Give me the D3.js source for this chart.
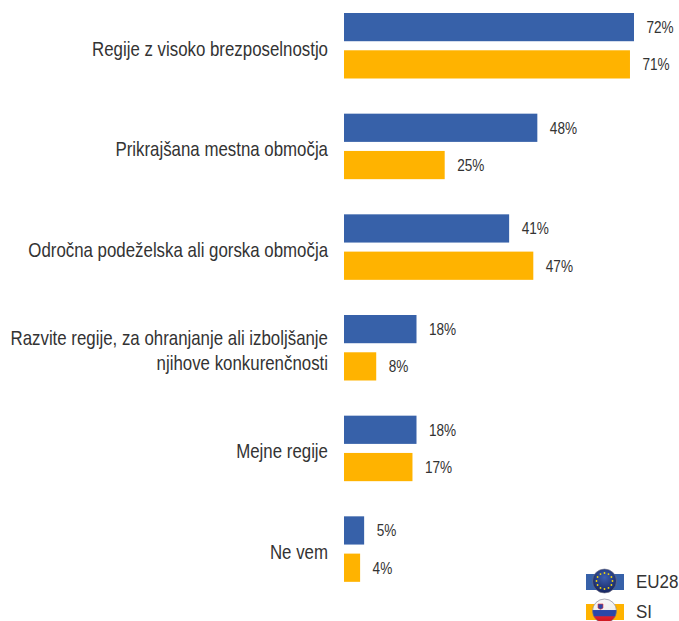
<!DOCTYPE html>
<html><head><meta charset="utf-8">
<script src="https://cdn.jsdelivr.net/npm/d3@7"></script>
<style>html,body{margin:0;padding:0;background:#fff}svg{display:block}text{font-family:"Liberation Sans",Arial,sans-serif;fill:#333}</style>
</head><body><div id="c"></div>
<script>
const categories=[["Regije z visoko brezposelnostjo"],["Prikrajšana mestna območja"],["Odročna podeželska ali gorska območja"],["Razvite regije, za ohranjanje ali izboljšanje","njihove konkurenčnosti"],["Mejne regije"],["Ne vem"]];
const seriesNames=["EU28","SI"];
const eu28=[72,48,41,18,18,5];
const si=[71,25,47,8,17,4];
const colors=["#3761A9","#FFB300"];
const W=679,H=621;
const svg=d3.select("#c").append("svg").attr("width",W).attr("height",H);
const x=d3.scaleLinear().domain([0,72]).range([344,634]);
const y=d3.scaleBand().domain(d3.range(categories.length)).range([2,606]);
const inner=d3.scaleBand().domain(seriesNames).range([11,76.5]).paddingInner(0.243);
function label(sel,tx,ty,fs,anchor,str,xs){
  const g=sel.append("g").attr("transform",`translate(${tx},${ty}) scale(${xs},1)`);
  g.append("text").attr("font-size",fs).attr("text-anchor",anchor).text(str);
}
const groups=svg.selectAll("g.cat").data(categories).join("g").attr("class","cat").attr("transform",(d,i)=>`translate(0,${y(i)})`);
groups.each(function(lines,i){
  const g=d3.select(this);
  [eu28[i],si[i]].forEach((v,k)=>{
    const name=seriesNames[k],by=inner(name),bh=inner.bandwidth();
    g.append("rect").attr("x",x(0)).attr("y",by).attr("width",x(v)-x(0)).attr("height",bh).attr("fill",colors[k]);
    label(g,x(v)+12.5,by+bh/2+6,16,"start",v+"%",0.85);
  });
  const mid=(inner.range()[0]+inner.range()[1])/2;
  lines.forEach((t,j)=>{
    const off=lines.length===1?4:(j===0?-8.5:16.5);
    label(g,328,mid+off+6,20,"end",t,0.843);
  });
});
const defs=svg.append("defs");
const eg=defs.append("radialGradient").attr("id","eu").attr("cx","50%").attr("cy","35%").attr("r","65%");
eg.append("stop").attr("offset","0%").attr("stop-color","#3c5fb0");
eg.append("stop").attr("offset","100%").attr("stop-color","#16245f");
const sg=defs.append("linearGradient").attr("id","si").attr("x1",0).attr("x2",0).attr("y1",0).attr("y2",1);
[["0%","#f6f6f6"],["44%","#f0f0f0"],["48%","#2b47a8"],["70%","#2b47a8"],["74%","#e0202c"],["100%","#c8141e"]].forEach(s=>sg.append("stop").attr("offset",s[0]).attr("stop-color",s[1]));
const legY=d3.scalePoint().domain(seriesNames).range([581,611]);
seriesNames.forEach((n,k)=>{
  const cy=legY(n);
  svg.append("rect").attr("x",586).attr("y",cy-7).attr("width",38).attr("height",16).attr("fill",colors[k]);
  svg.append("circle").attr("cx",604.5).attr("cy",cy).attr("r",12).attr("fill",k?"url(#si)":"url(#eu)").attr("stroke","#778").attr("stroke-width",.6);
  if(k===0){
    d3.range(12).forEach(a=>{
      svg.append("circle").attr("cx",604.5+8*Math.cos(a*Math.PI/6)).attr("cy",cy+8*Math.sin(a*Math.PI/6)).attr("r",.9).attr("fill","#f5d90a");
    });
  } else {
    svg.append("path").attr("d",`M598 ${cy-7}h5v4q-2.5 2.5-5 0z`).attr("fill","#2b47a8").attr("stroke","#e33").attr("stroke-width",.6);
  }
  label(svg,636,cy+6.5,19,"start",n,0.895);
});
</script></body></html>
